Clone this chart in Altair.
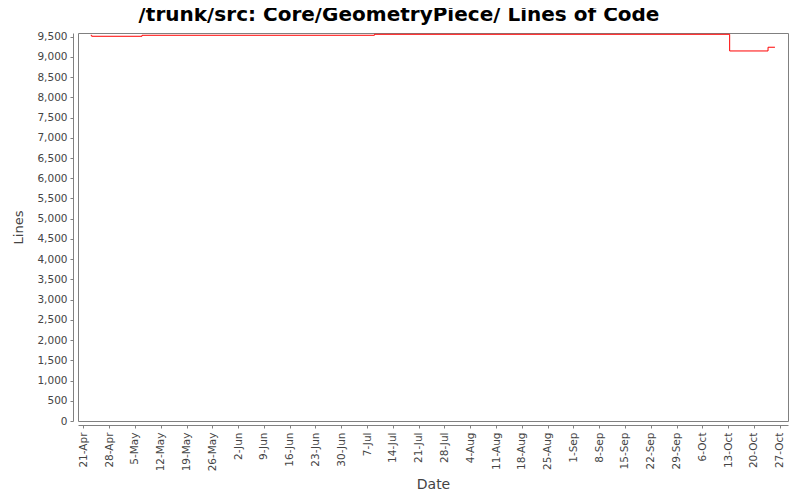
import altair as alt
import pandas as pd
from datetime import datetime, timezone

# Data
dates = ["2008-04-23T00:00:00Z", "2008-04-23T06:00:00Z", "2008-05-06T22:00:00Z",
         "2008-07-09T00:00:00Z", "2008-10-13T10:00:00Z", "2008-10-23T20:00:00Z",
         "2008-10-25T17:00:00Z"]
lines = [9534, 9509, 9534, 9558, 9146, 9238, 9238]

tick_labels = ["21-Apr", "28-Apr", "5-May", "12-May", "19-May", "26-May", "2-Jun",
               "9-Jun", "16-Jun", "23-Jun", "30-Jun", "7-Jul", "14-Jul", "21-Jul",
               "28-Jul", "4-Aug", "11-Aug", "18-Aug", "25-Aug", "1-Sep", "8-Sep",
               "15-Sep", "22-Sep", "29-Sep", "6-Oct", "13-Oct", "20-Oct", "27-Oct"]
y_ticks = list(range(0, 10000, 500))


def ms(s):
    return int(datetime.strptime(s, "%Y-%m-%dT%H:%M").replace(tzinfo=timezone.utc).timestamp() * 1000)


tick_ms = [ms(datetime.strptime(t + "-2008", "%d-%b-%Y").strftime("%Y-%m-%dT%H:%M")) for t in tick_labels]
x_domain = [ms("2008-04-19T13:00"), ms("2008-10-29T06:00")]

df = pd.DataFrame({"date": dates, "lines": lines})

chart = alt.Chart(df).mark_line(
    interpolate="step-after", color="#FF0000", strokeWidth=1
).encode(
    x=alt.X("date:T", title="Date",
            scale=alt.Scale(type="utc", domain=x_domain, nice=False),
            axis=alt.Axis(values=tick_ms, labelExpr="utcFormat(datum.value, '%-d-%b')",
                          labelAngle=-90, labelAlign="right", labelBaseline="middle",
                          labelFont="DejaVu Sans", labelFontSize=10.5, labelColor="#444444",
                          titleFont="DejaVu Sans", titleFontSize=14, titleFontWeight="normal",
                          titleColor="#444444", titlePadding=7,
                          tickColor="#808080", tickSize=3, domainColor="#808080",
                          offset=4, grid=False, labelPadding=4, labelOverlap=False)),
    y=alt.Y("lines:Q", title="Lines",
            scale=alt.Scale(domain=[0, 9590], nice=False, zero=True),
            axis=alt.Axis(values=y_ticks, format=",d",
                          labelFont="DejaVu Sans", labelFontSize=10.5, labelColor="#444444",
                          titleFont="DejaVu Sans", titleFontSize=13, titleFontWeight="normal",
                          titleColor="#444444", titlePadding=11,
                          tickColor="#808080", tickSize=3, domainColor="#808080",
                          offset=5, grid=False, labelPadding=3)),
).properties(
    width=710, height=388,
    title=alt.TitleParams("/trunk/src: Core/GeometryPiece/ Lines of Code",
                          font="DejaVu Sans", fontSize=20, fontWeight="bold",
                          color="#000000", anchor="middle", dx=-34, offset=7),
    padding={"left": 70, "top": 25, "right": 4, "bottom": 71},
    autosize=alt.AutoSizeParams(type="none"),
    background="white",
).configure_view(
    stroke="#808080", strokeWidth=1
)

chart.save("out.html", embed_options={"renderer": "svg", "actions": False})
